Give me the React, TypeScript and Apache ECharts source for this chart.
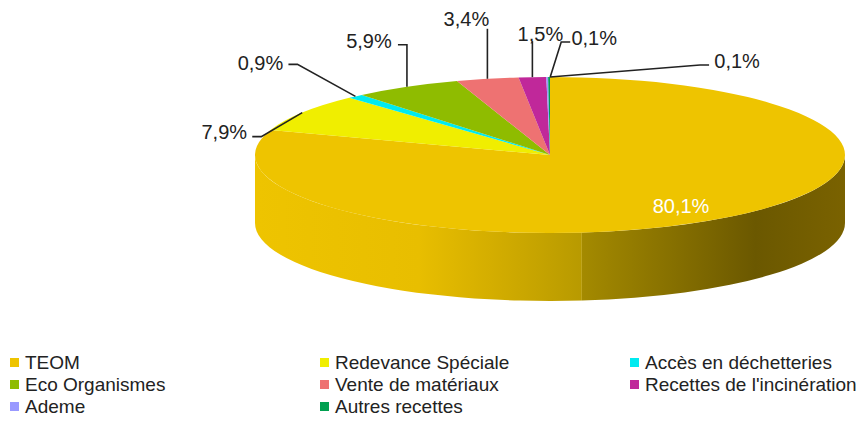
import React, { useEffect, useRef } from "react";
import * as echarts from "echarts";

const categories = ["TEOM", "Redevance Spéciale", "Accès en déchetteries", "Eco Organismes", "Vente de matériaux", "Recettes de l'incinération", "Ademe", "Autres recettes"];
const values = [80.1, 7.9, 0.9, 5.9, 3.4, 1.5, 0.1, 0.1];
const valueLabels = ["80,1%", "7,9%", "0,9%", "5,9%", "3,4%", "1,5%", "0,1%", "0,1%"];
const colors = ["#EEC400", "#F0EE00", "#00EAF0", "#8FBC00", "#EE7272", "#C0289A", "#9999FF", "#00A050"];

const legendColumns = [
  ["TEOM", "Eco Organismes", "Ademe"],
  ["Redevance Spéciale", "Vente de matériaux", "Autres recettes"],
  ["Accès en déchetteries", "Recettes de l'incinération"],
];
const legendLefts = [10, 320, 630];

// Pie geometry
const CX = 550, CY = 155, RX = 295, RY = 78, DEPTH = 68, SIDE_SPLIT = 173.8;

// Leader layout, as offsets from the rim at each slice's mid-angle
const leaderOffsets: number[][][] = [
  [],
  [[0, 0], [-41, 24], [-50, 24]],
  [[0, 0], [-58, -32], [-67, -32]],
  [[0, 0], [0, -42], [-9, -42]],
  [[0, 0], [0, -50]],
  [[0, 0], [0, -36]],
  [[3, 0], [14, -35], [23, -35]],
  [[1, 0], [151, -12], [160, -12]],
];
const labelOffsets = [
  [-41, -12], [-78, 19], [-95, -33], [-38, -46], [-21, -60], [8, -43], [47, -39], [188, -16],
];

const rad = (d: number) => (d * Math.PI) / 180;
const pt = (deg: number, dy = 0) => [CX + RX * Math.sin(rad(deg)), CY - RY * Math.cos(rad(deg)) + dy];
const arc = (to: number[], large: number, sweep: number) => `A${RX} ${RY} 0 ${large} ${sweep} ${to[0]} ${to[1]}`;

const total = values.reduce((a, b) => a + b, 0);
const starts: number[] = [];
values.reduce((acc, v, i) => { starts[i] = acc; return acc + v; }, 0);

function sidePath(a: number, b: number) {
  const p1 = pt(a), p2 = pt(b), p3 = pt(b, DEPTH), p4 = pt(a, DEPTH);
  return `M${p1[0]} ${p1[1]}${arc(p2, 0, 1)}L${p3[0]} ${p3[1]}${arc(p4, 0, 0)}Z`;
}

export default function App() {
  const ref = useRef<HTMLDivElement>(null);
  useEffect(() => {
    document.body.style.margin = "0";
    const chart = echarts.init(ref.current!, null, { renderer: "svg" });
    const series = categories.map((name, i) => ({
      type: "custom",
      name,
      coordinateSystem: "none",
      silent: true,
      itemStyle: { color: colors[i] },
      data: [[(starts[i] / total) * 360, ((starts[i] + values[i]) / total) * 360]],
      renderItem: (_p: any, api: any) => {
        const a = api.value(0), b = api.value(1);
        const p1 = pt(a), p2 = pt(b);
        const children: any[] = [];
        if (i === 0) {
          children.push({
            type: "path",
            shape: { pathData: sidePath(90, SIDE_SPLIT) },
            style: {
              fill: new echarts.graphic.LinearGradient(0, 0, 1, 0, [
                { offset: 0, color: "#A48A00" },
                { offset: 0.66, color: "#6B5800" },
                { offset: 1, color: "#7A6200" },
              ]),
            },
          });
          children.push({
            type: "path",
            shape: { pathData: sidePath(SIDE_SPLIT, 270) },
            style: {
              fill: new echarts.graphic.LinearGradient(0, 0, 1, 0, [
                { offset: 0, color: "#EEC400" },
                { offset: 0.5, color: "#E8BE00" },
                { offset: 0.72, color: "#D4AE00" },
                { offset: 1, color: "#B89A00" },
              ]),
            },
          });
        }
        children.push({
          type: "path",
          shape: { pathData: `M${CX} ${CY}L${p1[0]} ${p1[1]}${arc(p2, b - a > 180 ? 1 : 0, 1)}Z` },
          style: { fill: colors[i] },
        });
        const anchor = pt((a + b) / 2);
        const leader = leaderOffsets[i];
        if (leader.length) {
          children.push({
            type: "polyline",
            shape: { points: leader.map((o) => [anchor[0] + o[0], anchor[1] + o[1]]) },
            style: { fill: "none", stroke: "#222222", lineWidth: 1.6 },
          });
        }
        const off = labelOffsets[i];
        children.push({
          type: "text",
          style: {
            x: anchor[0] + off[0],
            y: anchor[1] + off[1],
            text: valueLabels[i],
            fill: i === 0 ? "#FFFFFF" : "#222222",
            font: '20px "Liberation Sans", Arial, sans-serif',
            textAlign: "center",
            textVerticalAlign: "middle",
          },
        });
        return { type: "group", children };
      },
    }));
    chart.setOption({
      animation: false,
      backgroundColor: "#FFFFFF",
      legend: legendColumns.map((data, k) => ({
        data,
        orient: "vertical",
        left: legendLefts[k],
        top: 353,
        padding: 0,
        itemWidth: 9,
        itemHeight: 9,
        itemGap: 3,
        icon: "rect",
        selectedMode: false,
        textStyle: { fontSize: 19, color: "#222222", fontFamily: '"Liberation Sans", Arial, sans-serif', padding: [0, 0, 0, 1], lineHeight: 19 },
      })),
      series,
    });
    return () => chart.dispose();
  }, []);
  return <div ref={ref} style={{ width: 861, height: 422 }} />;
}
